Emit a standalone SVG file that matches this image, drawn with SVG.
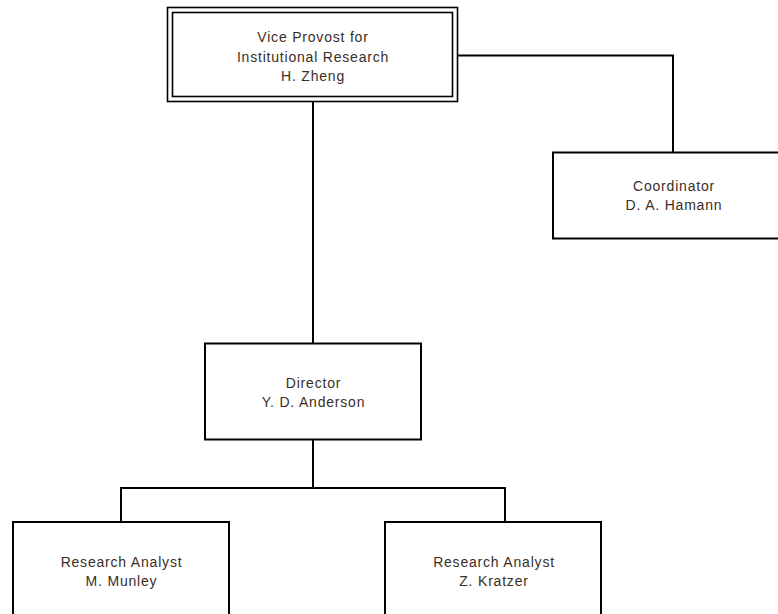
<svg xmlns="http://www.w3.org/2000/svg" width="778" height="614" viewBox="0 0 778 614">
<style>
.box{fill:#ffffff;stroke:#000000;stroke-width:2}
.thin{fill:none;stroke:#000000;stroke-width:1.6}
.conn{fill:none;stroke:#000000;stroke-width:2}
text{font-family:"Liberation Sans",Arial,sans-serif;font-size:14px;fill:#3b2d1f;text-anchor:middle;letter-spacing:0.8px}
</style>
<rect width="778" height="614" fill="#ffffff"/>
<g id="connectors">
<polyline class="conn" points="313,102 313,343"/>
<polyline class="conn" points="458,55.5 673,55.5 673,152"/>
<polyline class="conn" points="313,439 313,488"/>
<polyline class="conn" points="121,522 121,488 505,488 505,522"/>
</g>
<g id="vp">
<rect class="thin" x="167.5" y="7.5" width="290" height="94"/>
<rect class="thin" x="172.5" y="12.5" width="280" height="84"/>
<text x="313" y="42">Vice Provost for</text>
<text x="313" y="61.5">Institutional Research</text>
<text x="313" y="81">H. Zheng</text>
</g>
<g id="coordinator">
<rect class="box" x="553" y="152.5" width="242" height="86"/>
<text x="674" y="190.5">Coordinator</text>
<text x="674" y="209.5">D. A. Hamann</text>
</g>
<g id="director">
<rect class="box" x="205" y="343.5" width="216" height="96"/>
<text x="313.5" y="388.3">Director</text>
<text x="313.5" y="407.3">Y. D. Anderson</text>
</g>
<g id="analyst1">
<rect class="box" x="13" y="522" width="216" height="120"/>
<text x="121.5" y="566.7">Research Analyst</text>
<text x="121.5" y="586">M. Munley</text>
</g>
<g id="analyst2">
<rect class="box" x="385" y="522" width="216" height="120"/>
<text x="494" y="566.7">Research Analyst</text>
<text x="494" y="586">Z. Kratzer</text>
</g>
</svg>
